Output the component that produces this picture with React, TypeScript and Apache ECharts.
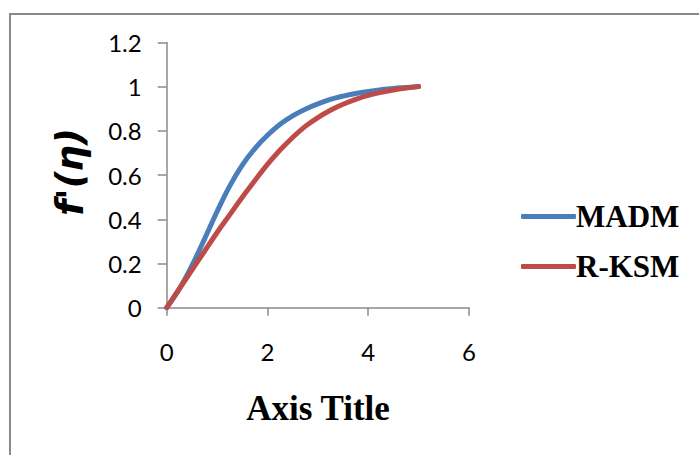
import React, { useEffect, useRef } from "react";
import * as echarts from "echarts";

const etaValues = [0, 0.25, 0.5, 0.75, 1.0, 1.25, 1.5, 1.75, 2.0, 2.25, 2.5, 2.75, 3.0, 3.25, 3.5, 3.75, 4.0, 4.25, 4.5, 4.75, 5.0];
const madmValues = [0, 0.085, 0.19, 0.31, 0.435, 0.55, 0.645, 0.72, 0.78, 0.83, 0.868, 0.898, 0.922, 0.942, 0.957, 0.969, 0.978, 0.986, 0.992, 0.996, 1.0];
const rksmValues = [0, 0.085, 0.17, 0.255, 0.34, 0.42, 0.5, 0.575, 0.648, 0.713, 0.77, 0.82, 0.86, 0.893, 0.92, 0.942, 0.96, 0.974, 0.985, 0.994, 1.0];
const seriesNames = ["MADM", "R-KSM"];
const xTitle = "Axis Title";
const yTitle = "f'(η)";

export default function App() {
  const ref = useRef<HTMLDivElement>(null);
  useEffect(() => {
    if (!ref.current) return;
    const chart = echarts.init(ref.current, null, { renderer: "svg" });
    const axisColor = "#8a8a8a";
    const labelFont = { fontFamily: "Lato, 'Open Sans', sans-serif", fontSize: 24, color: "#000" };
    chart.setOption({
      animation: false,
      backgroundColor: "#fff",
      grid: { left: 166.7, top: 42.4, width: 302.3, height: 265.3, containLabel: false },
      xAxis: {
        type: "value",
        min: 0,
        max: 6,
        interval: 2,
        axisLine: { show: true, lineStyle: { color: axisColor, width: 1.5 } },
        axisTick: { show: true, inside: false, length: 8, lineStyle: { color: axisColor, width: 1.5 } },
        splitLine: { show: false },
        axisLabel: { ...labelFont, margin: 32 },
      },
      yAxis: {
        type: "value",
        min: 0,
        max: 1.2,
        interval: 0.2,
        axisLine: { show: true, lineStyle: { color: axisColor, width: 1.5 } },
        axisTick: { show: true, inside: false, length: 9, lineStyle: { color: axisColor, width: 1.5 } },
        splitLine: { show: false },
        axisLabel: { ...labelFont, margin: 25 },
      },
      legend: {
        orient: "vertical",
        left: 516,
        top: 196,
        itemWidth: 55,
        itemHeight: 5,
        itemGap: 19,
        icon: "roundRect",
        textStyle: {
          fontFamily: "'Liberation Serif', 'Times New Roman', serif",
          fontWeight: "bold",
          fontSize: 31,
          color: "#000",
          padding: [0, 0, 0, -5],
        },
        data: seriesNames,
      },
      graphic: [
        {
          type: "rect",
          shape: { x: 10, y: 14, width: 760, height: 500 },
          style: { fill: "none", stroke: "#8a8a8a", lineWidth: 2 },
          silent: true,
        },
        {
          type: "text",
          x: 318,
          y: 408,
          style: {
            text: xTitle,
            fontFamily: "'Liberation Serif', 'Times New Roman', serif",
            fontWeight: "bold",
            fontSize: 35,
            fill: "#000",
            textAlign: "center",
            textVerticalAlign: "middle",
          },
        },
        {
          type: "text",
          x: 70,
          y: 172,
          rotation: Math.PI / 2,
          style: {
            text: yTitle,
            fontFamily: "'DejaVu Sans', sans-serif",
            fontWeight: "bold",
            fontStyle: "italic",
            fontSize: 37,
            fill: "#000",
            textAlign: "center",
            textVerticalAlign: "middle",
          },
        },
      ],
      series: [
        {
          name: seriesNames[0],
          type: "line",
          smooth: 0.4,
          showSymbol: false,
          color: "#4A7EBB",
          lineStyle: { width: 5, cap: "round", join: "round" },
          data: etaValues.map((x, i) => [x, madmValues[i]]),
        },
        {
          name: seriesNames[1],
          type: "line",
          smooth: 0.4,
          showSymbol: false,
          color: "#BE4B48",
          lineStyle: { width: 5, cap: "round", join: "round" },
          data: etaValues.map((x, i) => [x, rksmValues[i]]),
        },
      ],
    });
    return () => chart.dispose();
  }, []);
  return (
    <div
      ref={ref}
      style={{ position: "fixed", left: 0, top: 0, width: 699, height: 455 }}
    />
  );
}
